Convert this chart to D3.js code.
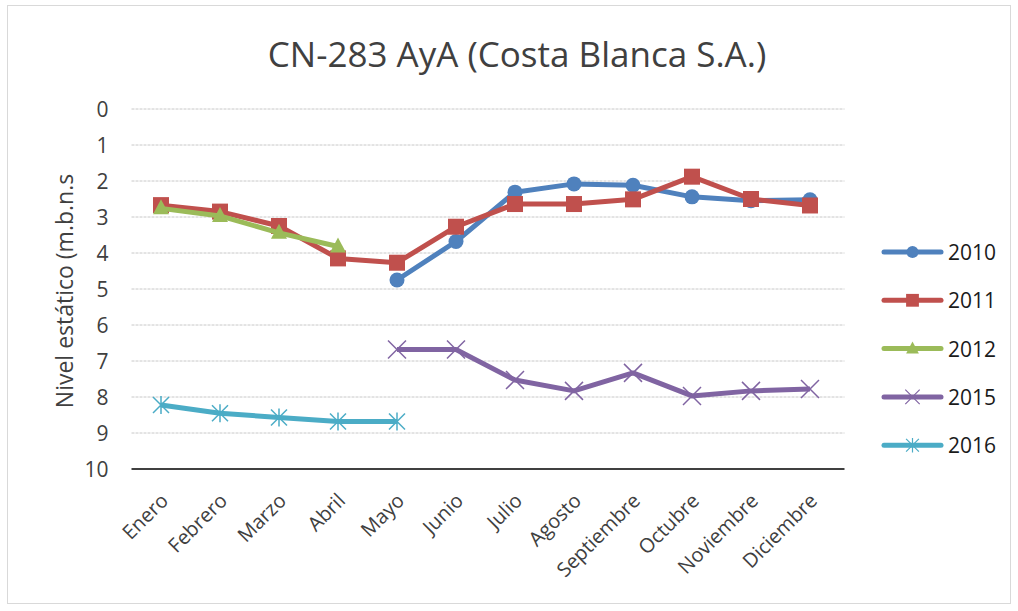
<!DOCTYPE html>
<html lang="es">
<head>
    <meta charset="UTF-8">
    <title>CN-283 AyA (Costa Blanca S.A.)</title>
    <script src="https://d3js.org/d3.v7.min.js"></script>
    <style>
        body {
            margin: 0;
            padding: 0;
            background-color: #fff;
        }
        svg text {
            font-family: "Open Sans", "Noto Sans", sans-serif;
            fill: #404040;
        }
    </style>
</head>
<body>
    <svg id="chart" width="1018" height="611"></svg>

    <script>
        const months = ['Enero', 'Febrero', 'Marzo', 'Abril', 'Mayo', 'Junio', 'Julio',
            'Agosto', 'Septiembre', 'Octubre', 'Noviembre', 'Diciembre'];
        const yTicks = [0, 1, 2, 3, 4, 5, 6, 7, 8, 9, 10];

        // null = no reading for that month
        const y2010 = [null, null, null, null, 4.75, 3.68, 2.31, 2.08, 2.12, 2.44, 2.55, 2.52];
        const y2011 = [2.67, 2.85, 3.25, 4.15, 4.27, 3.27, 2.64, 2.64, 2.51, 1.88, 2.5, 2.68];
        const y2012 = [2.76, 2.97, 3.44, 3.82, null, null, null, null, null, null, null, null];
        const y2015 = [null, null, null, null, 6.68, 6.68, 7.53, 7.83, 7.33, 7.97, 7.83, 7.78];
        const y2016 = [8.22, 8.45, 8.57, 8.68, 8.68, null, null, null, null, null, null, null];

        const series = [
            { name: '2010', values: y2010, color: '#4F81BD', marker: 'circle' },
            { name: '2011', values: y2011, color: '#C0504D', marker: 'square' },
            { name: '2012', values: y2012, color: '#9BBB59', marker: 'triangle' },
            { name: '2015', values: y2015, color: '#8064A2', marker: 'x' },
            { name: '2016', values: y2016, color: '#4BACC6', marker: 'star' }
        ];

        const svg = d3.select('#chart');

        // chart frame
        svg.append('rect')
            .attr('x', 7.5).attr('y', 5.5)
            .attr('width', 1003).attr('height', 598)
            .attr('fill', '#fff')
            .attr('stroke', '#d9d9d9');

        const plot = { left: 131.5, right: 839.5, top: 109, bottom: 469 };

        const x = d3.scalePoint()
            .domain(months)
            .range([plot.left, plot.right])
            .padding(0.5);

        const y = d3.scaleLinear()
            .domain([0, 10])
            .range([plot.top, plot.bottom]);

        // gridlines
        svg.append('g')
            .selectAll('line')
            .data(yTicks.slice(0, -1))
            .join('line')
            .attr('x1', plot.left).attr('x2', plot.right + 5)
            .attr('y1', d => y(d)).attr('y2', d => y(d))
            .attr('stroke', '#c8c8c8')
            .attr('stroke-dasharray', '3,1');

        // y axis labels
        const yAxis = svg.append('g')
            .attr('transform', `translate(${plot.left},0)`)
            .call(d3.axisLeft(y).tickValues(yTicks).tickSize(0).tickPadding(23));
        yAxis.select('.domain').remove();
        yAxis.selectAll('text')
            .style('font-size', '21px')
            .attr('dy', '0.36em')
            .attr('fill', '#404040');

        // x axis
        const xAxis = svg.append('g')
            .attr('transform', `translate(0,${plot.bottom})`)
            .call(d3.axisBottom(x).tickSize(0).tickPadding(0));
        xAxis.select('.domain')
            .attr('d', `M${plot.left},0H${plot.right + 5}`)
            .attr('stroke', '#000')
            .attr('stroke-width', 1.5);
        xAxis.selectAll('text')
            .style('font-size', '20px')
            .attr('fill', '#404040')
            .attr('dy', 0)
            .attr('y', 0)
            .attr('text-anchor', 'end')
            .attr('transform', 'translate(8,33) rotate(-45)');

        // title
        svg.append('text')
            .attr('x', 517).attr('y', 67)
            .attr('text-anchor', 'middle')
            .style('font-size', '35px')
            .text('CN-283 AyA (Costa Blanca S.A.)');

        // y axis title
        svg.append('text')
            .attr('transform', 'translate(73,291) rotate(-90)')
            .attr('text-anchor', 'middle')
            .style('font-size', '23px')
            .text('Nivel estático (m.b.n.s');

        const drawMarker = (g, type, color, s) => {
            if (type === 'circle') {
                g.append('circle').attr('r', 7.5 * s).attr('fill', color);
            } else if (type === 'square') {
                g.append('rect')
                    .attr('x', -8 * s).attr('y', -8 * s)
                    .attr('width', 16 * s).attr('height', 16 * s)
                    .attr('fill', color);
            } else if (type === 'triangle') {
                g.append('path')
                    .attr('d', 'M0,-9L8,6H-8Z')
                    .attr('transform', `scale(${s})`)
                    .attr('fill', color);
            } else if (type === 'x') {
                g.append('path')
                    .attr('d', 'M-9,-9L9,9M-9,9L9,-9')
                    .attr('transform', `scale(${s})`)
                    .attr('stroke', color)
                    .attr('stroke-width', 1.5);
            } else if (type === 'star') {
                g.append('path')
                    .attr('d', 'M-8,-8L8,8M-8,8L8,-8M0,-9V9')
                    .attr('transform', `scale(${s})`)
                    .attr('stroke', color)
                    .attr('stroke-width', 1.5);
            }
        };

        const line = d3.line()
            .defined(d => d.v !== null)
            .x(d => x(d.m))
            .y(d => y(d.v));

        series.forEach(s => {
            const pts = s.values.map((v, i) => ({ m: months[i], v: v }));
            const g = svg.append('g');
            g.append('path')
                .datum(pts)
                .attr('fill', 'none')
                .attr('stroke', s.color)
                .attr('stroke-width', 5)
                .attr('stroke-linejoin', 'round')
                .attr('d', line);
            pts.filter(d => d.v !== null).forEach(d => {
                const m = g.append('g')
                    .attr('transform', `translate(${x(d.m)},${y(d.v)})`);
                drawMarker(m, s.marker, s.color, 1);
            });
        });

        // legend
        const legend = svg.append('g')
            .attr('transform', 'translate(884,252)');
        series.forEach((s, i) => {
            const row = legend.append('g')
                .attr('transform', `translate(0,${i * 48.3})`);
            row.append('line')
                .attr('x1', 0).attr('x2', 57)
                .attr('stroke', s.color)
                .attr('stroke-width', 5)
                .attr('stroke-linecap', 'round');
            const m = row.append('g').attr('transform', 'translate(28.5,0)');
            drawMarker(m, s.marker, s.color, 0.8);
            row.append('text')
                .attr('x', 64).attr('y', 8)
                .style('font-size', '21px')
                .style('fill', '#1a1a1a')
                .text(s.name);
        });
    </script>
</body>
</html>
